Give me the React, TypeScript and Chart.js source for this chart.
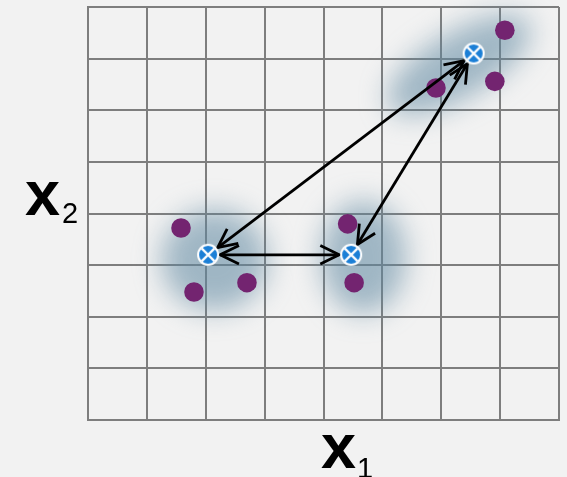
import React, { useEffect, useRef } from 'react';
import { Chart, registerables } from 'chart.js';

Chart.register(...registerables);

// Data points (purple)
const pointsX = [1.58, 1.8, 2.7, 4.41, 4.52, 5.91, 6.91, 7.08];
const pointsY = [3.72, 2.48, 2.66, 3.8, 2.66, 6.43, 6.56, 7.55];

// Centroids
const centroidX = [2.04, 4.47, 6.55];
const centroidY = [3.2, 3.2, 7.1];

// Double-headed arrows between centroids
const arrowFrom = [0, 0, 1];
const arrowTo = [1, 2, 2];

// Blurred cluster clouds (data units)
const cloudX = [2.15, 4.68, 6.3];
const cloudY = [3.1, 3.15, 6.88];
const cloudRx = [0.9, 0.72, 1.38];
const cloudRy = [0.98, 1.08, 0.62];
const cloudAngle = [0, 0, -31];

// Axis labels
const xLabelMain = 'x';
const xLabelSub = '1';
const yLabelMain = 'x';
const yLabelSub = '2';

const gridMin = 0;
const gridMax = 8;

function makeCentroidImage(): HTMLCanvasElement {
  const s = 24;
  const c = document.createElement('canvas');
  c.width = s;
  c.height = s;
  const g = c.getContext('2d')!;
  const m = s / 2;
  g.beginPath();
  g.arc(m, m, 11, 0, Math.PI * 2);
  g.fillStyle = '#ffffff';
  g.fill();
  g.beginPath();
  g.arc(m, m, 9, 0, Math.PI * 2);
  g.fillStyle = '#1b7fd6';
  g.fill();
  g.strokeStyle = '#ffffff';
  g.lineWidth = 2.2;
  const d = 9 * Math.SQRT1_2;
  g.beginPath();
  g.moveTo(m - d, m - d);
  g.lineTo(m + d, m + d);
  g.moveTo(m + d, m - d);
  g.lineTo(m - d, m + d);
  g.stroke();
  return c;
}

const cloudPlugin = {
  id: 'clouds',
  beforeDatasetsDraw(chart: any) {
    const { ctx, scales } = chart;
    const xs = scales.x;
    const ys = scales.y;
    const ux = Math.abs(xs.getPixelForValue(1) - xs.getPixelForValue(0));
    const uy = Math.abs(ys.getPixelForValue(1) - ys.getPixelForValue(0));
    ctx.save();
    ctx.filter = 'blur(14px)';
    ctx.fillStyle = 'rgba(95,135,160,0.56)';
    for (let i = 0; i < cloudX.length; i++) {
      const cx = xs.getPixelForValue(cloudX[i]);
      const cy = ys.getPixelForValue(cloudY[i]);
      ctx.beginPath();
      ctx.ellipse(cx, cy, cloudRx[i] * ux, cloudRy[i] * uy, (cloudAngle[i] * Math.PI) / 180, 0, Math.PI * 2);
      ctx.fill();
    }
    ctx.restore();
  },
};

function drawArrowHead(ctx: CanvasRenderingContext2D, tx: number, ty: number, ang: number) {
  const len = 21;
  const spread = (26 * Math.PI) / 180;
  ctx.beginPath();
  ctx.moveTo(tx + len * Math.cos(ang + spread), ty + len * Math.sin(ang + spread));
  ctx.lineTo(tx, ty);
  ctx.lineTo(tx + len * Math.cos(ang - spread), ty + len * Math.sin(ang - spread));
  ctx.stroke();
}

const arrowPlugin = {
  id: 'arrows',
  afterDatasetDraw(chart: any, args: any) {
    if (args.index !== 0) return;
    const { ctx, scales } = chart;
    const xs = scales.x;
    const ys = scales.y;
    ctx.save();
    ctx.strokeStyle = '#000000';
    ctx.lineWidth = 2.8;
    ctx.lineCap = 'butt';
    ctx.lineJoin = 'miter';
    const gap = 12;
    for (let i = 0; i < arrowFrom.length; i++) {
      const ax = xs.getPixelForValue(centroidX[arrowFrom[i]]);
      const ay = ys.getPixelForValue(centroidY[arrowFrom[i]]);
      const bx = xs.getPixelForValue(centroidX[arrowTo[i]]);
      const by = ys.getPixelForValue(centroidY[arrowTo[i]]);
      const dx = bx - ax;
      const dy = by - ay;
      const L = Math.hypot(dx, dy);
      const ux = dx / L;
      const uy = dy / L;
      const sx = ax + ux * gap;
      const sy = ay + uy * gap;
      const ex = bx - ux * gap;
      const ey = by - uy * gap;
      ctx.beginPath();
      ctx.moveTo(sx, sy);
      ctx.lineTo(ex, ey);
      ctx.stroke();
      drawArrowHead(ctx, sx, sy, Math.atan2(uy, ux));
      drawArrowHead(ctx, ex, ey, Math.atan2(-uy, -ux));
    }
    ctx.restore();
  },
};

const labelPlugin = {
  id: 'labels',
  afterDraw(chart: any) {
    const { ctx } = chart;
    ctx.save();
    ctx.fillStyle = '#000000';
    ctx.textBaseline = 'alphabetic';
    ctx.textAlign = 'left';
    ctx.font = 'bold 63px "Liberation Sans", Arial, sans-serif';
    ctx.fillText(yLabelMain, 25, 215);
    ctx.fillText(xLabelMain, 321, 468);
    ctx.font = '29px "Liberation Sans", Arial, sans-serif';
    ctx.fillText(yLabelSub, 62, 223);
    ctx.fillText(xLabelSub, 357, 478);
    ctx.restore();
  },
};

export default function App() {
  const ref = useRef<HTMLCanvasElement | null>(null);

  useEffect(() => {
    document.body.style.margin = '0';
    document.body.style.background = '#f2f2f2';
    const canvas = ref.current!;
    const centroidImg = makeCentroidImage();
    const gridColor = '#7e7e7e';
    const chart = new Chart(canvas, {
      type: 'scatter',
      data: {
        datasets: [
          {
            data: pointsX.map((x, i) => ({ x, y: pointsY[i] })),
            backgroundColor: '#732470',
            borderColor: '#732470',
            borderWidth: 0,
            pointRadius: 9.8,
            order: 2,
          },
          {
            data: centroidX.map((x, i) => ({ x, y: centroidY[i] })),
            pointStyle: centroidImg as any,
            pointRadius: 11,
            order: 1,
          },
        ],
      },
      options: {
        responsive: false,
        animation: false,
        events: [],
        layout: { autoPadding: false, padding: { left: 88, right: 8, top: 7, bottom: 57 } },
        plugins: {
          legend: { display: false },
          tooltip: { enabled: false },
        },
        scales: {
          x: {
            type: 'linear',
            min: gridMin,
            max: gridMax,
            ticks: { display: false, stepSize: 1 },
            grid: { color: gridColor, lineWidth: 2, drawTicks: false },
            border: { display: true, color: gridColor, width: 2 },
          },
          y: {
            type: 'linear',
            min: gridMin,
            max: gridMax,
            ticks: { display: false, stepSize: 1 },
            grid: { color: gridColor, lineWidth: 2, drawTicks: false },
            border: { display: true, color: gridColor, width: 2 },
          },
        },
      },
      plugins: [cloudPlugin, arrowPlugin, labelPlugin],
    } as any);
    return () => chart.destroy();
  }, []);

  return (
    <div style={{ position: 'absolute', left: 0, top: 0, width: 567, height: 477, background: '#f2f2f2' }}>
      <canvas ref={ref} width={567} height={477} style={{ display: 'block' }} />
    </div>
  );
}
